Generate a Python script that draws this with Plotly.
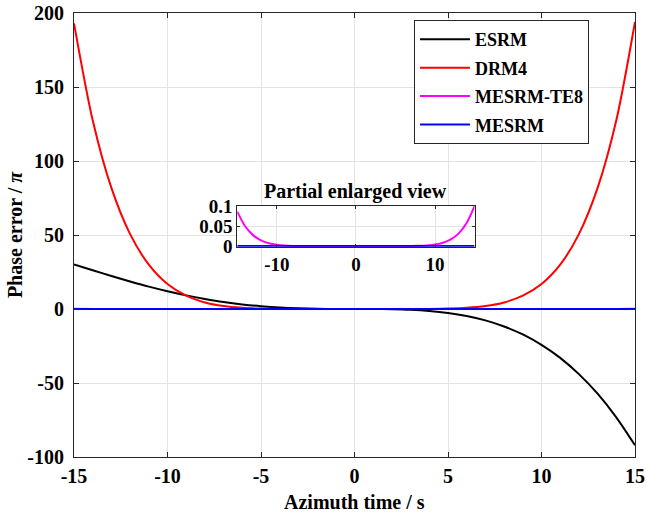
import plotly.graph_objects as go

# Azimuth time samples (s)
t = list(range(-15, 16))

# Phase error (in units of pi) for each method
esrm = [30.1, 26.2, 22.3, 18.6, 15.1, 12.0, 9.2, 6.8, 4.7, 3.1, 1.9, 1.0, 0.44, 0.14, 0.02,
        0.0,
        -0.02, -0.16, -0.54, -1.32, -2.64, -4.70, -7.68, -11.8, -17.2, -24.2, -33.0, -44.0,
        -57.2, -73.2, -92.1]
drm4 = [193.0, 127.5, 81.8, 50.6, 30.0, 16.9, 9.0, 4.44, 1.99, 0.79, 0.27, 0.07, 0.01, 0.0, 0.0,
        0.0,
        0.0, 0.0, 0.01, 0.07, 0.27, 0.79, 1.99, 4.44, 9.0, 16.9, 30.0, 50.6, 81.8, 127.5, 194.0]
mesrm_te8 = [0.086, 0.0495, 0.0274, 0.0144, 0.0072, 0.0034, 0.0014, 0.00056, 0.0002, 0.00006,
             0.00001, 0.0, 0.0, 0.0, 0.0,
             0.0,
             0.0, 0.0, 0.0, 0.0, 0.00001, 0.00007, 0.00023, 0.00065, 0.0017, 0.0039, 0.0084,
             0.0168, 0.0318, 0.0576, 0.1]
mesrm = [0.0] * len(t)

x_ticks = [-15, -10, -5, 0, 5, 10, 15]
x_labels = ["-15", "-10", "-5", "0", "5", "10", "15"]
y_ticks = [-100, -50, 0, 50, 100, 150, 200]
y_labels = ["-100", "-50", "0", "50", "100", "150", "200"]
inset_x_ticks = [-10, 0, 10]
inset_x_labels = ["-10", "0", "10"]
inset_y_ticks = [0, 0.05, 0.1]
inset_y_labels = ["0", "0.05", "0.1"]

FONT = "Liberation Serif"
AXIS = "#262626"
GRID = "#e3e3e3"

series = [
    ("ESRM", esrm, "#000000"),
    ("DRM4", drm4, "#ff0000"),
    ("MESRM-TE8", mesrm_te8, "#ff00ff"),
    ("MESRM", mesrm, "#0000ff"),
]

fig = go.Figure()
for name, vals, color in series:
    fig.add_trace(go.Scatter(
        x=t, y=vals, name=name, mode="lines", legendgroup=name,
        line=dict(color=color, width=2, shape="spline", smoothing=0.8),
    ))

# Zoomed view of the two small-error methods
for name, vals, color in series[2:]:
    fig.add_trace(go.Scatter(
        x=t, y=vals, name=name, mode="lines", showlegend=False,
        xaxis="x2", yaxis="y2",
        line=dict(color=color, width=2, shape="spline", smoothing=0.8),
    ))

tick_font = dict(family=FONT, size=20, color="#000000", weight="bold")
inset_tick_font = dict(family=FONT, size=19, color="#000000", weight="bold")
title_font = dict(family=FONT, size=20, color="#000000", weight="bold")

frame = dict(
    ticks="inside", tickcolor=AXIS, showline=True, linecolor=AXIS, linewidth=1,
    mirror="ticks", showgrid=True, gridcolor=GRID, gridwidth=1, zeroline=False,
    automargin=False,
)

fig.update_layout(
    width=646, height=512,
    margin=dict(l=74, r=11, t=13, b=55),
    paper_bgcolor="white", plot_bgcolor="white",
    font=dict(family=FONT, color="#000000"),
    xaxis=dict(
        range=[-15, 15], tickvals=x_ticks, ticktext=x_labels, ticklen=5,
        tickfont=tick_font, ticklabelstandoff=1, **frame,
    ),
    yaxis=dict(
        range=[-100, 200], tickvals=y_ticks, ticktext=y_labels, ticklen=5,
        tickfont=tick_font, ticklabelstandoff=5, **frame,
    ),
    xaxis2=dict(
        domain=[0.291, 0.714], anchor="y2", range=[-15, 15], tickvals=inset_x_ticks,
        ticktext=inset_x_labels, ticklen=3, tickfont=inset_tick_font, **frame,
    ),
    yaxis2=dict(
        domain=[0.4736, 0.5653], anchor="x2", range=[-0.0015, 0.1], tickvals=inset_y_ticks,
        ticktext=inset_y_labels, ticklen=3, tickfont=inset_tick_font, **frame,
    ),
    legend=dict(
        x=0.606, y=0.984, xanchor="left", yanchor="top",
        bgcolor="white", bordercolor=AXIS, borderwidth=1,
        font=dict(family=FONT, size=18, weight="bold", color="#000000"),
        tracegroupgap=2, itemwidth=50,
    ),
    annotations=[
        dict(text="Partial enlarged view", xref="x2 domain", yref="y2 domain",
             x=0.5, y=1.0, yanchor="bottom", showarrow=False, yshift=1,
             font=dict(family=FONT, size=20, weight="bold", color="#000000")),
        dict(text="Azimuth time / s", xref="paper", yref="paper", x=0.5, y=-0.101,
             xanchor="center", yanchor="middle", showarrow=False, font=title_font),
        dict(text="Phase error / <i>π</i>", xref="paper", yref="paper", x=-0.105, y=0.5,
             xanchor="center", yanchor="middle", textangle=-90, showarrow=False,
             font=title_font),
    ],
)

fig.write_html("out.html")
